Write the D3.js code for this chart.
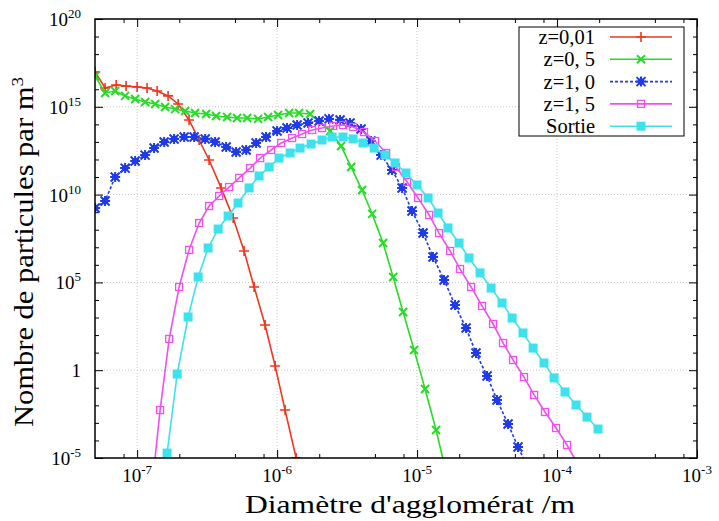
<!DOCTYPE html>
<html>
<head>
<meta charset="utf-8">
<script src="https://cdn.jsdelivr.net/npm/d3@7"></script>
<style>
  body { margin: 0; background: #fff; }
  svg text { font-family: "Liberation Serif", "Times New Roman", serif; fill: #000; }
</style>
</head>
<body>
<script>
// values, stored as log10 (diameter in m, number per m3)
var seriesNames = ["z=0,01", "z=0, 5", "z=1, 0", "z=1, 5", "Sortie"];

var z001LogD = [-7.300,-7.229,-7.150,-7.079,-7.000,-6.929,-6.857,-6.779,-6.707,-6.629,-6.557,-6.486,-6.400,-6.314,-6.236,-6.164,-6.086,-6.014,-5.943,-5.864];
var z001LogN = [16.98,16.07,16.24,16.18,16.13,16.07,15.90,15.62,15.16,14.25,13.11,11.97,10.38,8.67,6.79,4.74,2.57,0.24,-2.27,-5.00];

var z05LogD = [-7.300,-7.229,-7.157,-7.086,-7.014,-6.943,-6.871,-6.800,-6.729,-6.657,-6.586,-6.507,-6.436,-6.357,-6.286,-6.214,-6.136,-6.064,-5.993,-5.914,-5.843,-5.764,
               -5.621,-5.543,-5.471,-5.393,-5.321,-5.243,-5.171,-5.100,-5.021,-4.943,-4.864,-4.793];
var z05LogN = [16.75,15.79,15.90,15.62,15.44,15.27,15.16,14.99,14.87,14.76,14.65,14.59,14.48,14.42,14.36,14.36,14.31,14.42,14.53,14.65,14.65,14.59,
               13.62,12.77,11.57,10.26,8.90,7.24,5.31,3.31,1.15,-1.07,-3.41,-5.80];

var z10LogD = [-7.300,-7.229,-7.157,-7.086,-7.014,-6.943,-6.879,-6.807,-6.736,-6.664,-6.593,-6.514,-6.443,-6.364,-6.293,-6.221,-6.150,-6.079,-6.000,-5.929,-5.857,-5.779,
               -5.700,-5.629,-5.550,-5.479,-5.400,-5.329,-5.257,-5.179,-5.107,-5.036,-4.957,-4.886,-4.807,-4.729,-4.650,-4.579,-4.500,-4.429,-4.350,-4.279,-4.200];
var z10LogN = [9.24,9.64,11.00,11.51,11.91,12.25,12.65,13.00,13.17,13.28,13.28,13.17,13.00,12.71,12.43,12.54,12.94,13.28,13.62,13.79,13.96,14.08,
               14.19,14.31,14.25,14.08,13.74,13.05,12.25,11.40,10.38,9.07,7.81,6.45,5.14,3.71,2.40,0.98,-0.33,-1.70,-3.06,-4.37,-5.68];

var z15LogD = [-6.907,-6.836,-6.771,-6.700,-6.629,-6.557,-6.486,-6.414,-6.343,-6.271,-6.193,-6.121,-6.043,-5.971,-5.893,-5.821,-5.750,-5.679,-5.600,-5.529,-5.457,
               -5.379,-5.300,-5.221,-5.150,-5.071,-4.993,-4.914,-4.843,-4.764,-4.693,-4.614,-4.536,-4.457,-4.386,-4.314,-4.236,-4.164,-4.086,-4.007,-3.929,-3.857];
var z15LogN = [-7.68,-2.27,1.78,4.74,6.85,8.38,9.35,9.92,10.43,10.95,11.51,12.08,12.54,12.94,13.22,13.45,13.68,13.79,13.91,13.96,13.85,
               13.56,13.05,12.37,11.57,10.72,9.81,8.84,7.81,6.79,5.76,4.74,3.66,2.63,1.55,0.58,-0.39,-1.41,-2.38,-3.29,-4.26,-5.28];

var sortieLogD = [-6.850,-6.786,-6.714,-6.636,-6.564,-6.493,-6.421,-6.350,-6.279,-6.200,-6.129,-6.057,-5.986,-5.907,-5.836,-5.757,-5.679,-5.607,-5.529,-5.457,-5.386,
                  -5.307,-5.229,-5.157,-5.079,-5.000,-4.921,-4.850,-4.779,-4.700,-4.629,-4.550,-4.471,-4.393,-4.321,-4.243,-4.171,-4.093,-4.021,-3.943,-3.864,-3.786,-3.707];
var sortieLogN = [-11.38,-4.72,-0.22,3.03,5.31,6.96,8.04,8.78,9.52,10.38,11.06,11.57,12.08,12.37,12.65,12.88,13.11,13.28,13.28,13.17,12.94,
                  12.65,12.25,11.80,11.23,10.55,9.81,8.95,8.10,7.24,6.39,5.54,4.68,3.83,2.97,2.12,1.26,0.41,-0.44,-1.24,-1.98,-2.67,-3.35];

var xTickExp = [-7, -6, -5, -4, -3];
var yTickExp = [-5, 0, 5, 10, 15, 20];

var colors = ["#f0361c", "#26dc26", "#1f3be8", "#f24ef2", "#3ee2ec"];
var markers = ["plus", "cross", "star", "box", "fbox"];

var W = 719, H = 521;
var pLeft = 95, pRight = 697, pTop = 19, pBottom = 458;

var svg = d3.select("body").append("svg").attr("width", W).attr("height", H);

var x = d3.scaleLog().domain([5e-8, 1e-3]).range([pLeft, pRight]);
var y = d3.scaleLog().domain([1e-5, 1e20]).range([pBottom, pTop]);

svg.append("clipPath").attr("id", "plot")
  .append("rect").attr("x", pLeft).attr("y", pTop).attr("width", pRight - pLeft).attr("height", pBottom - pTop);

// grid
var grid = svg.append("g").attr("stroke", "#c8c8c8").attr("stroke-width", 1).attr("stroke-dasharray", "1,2");
xTickExp.slice(0, 4).forEach(function(e) {
  grid.append("line").attr("x1", x(Math.pow(10, e))).attr("x2", x(Math.pow(10, e))).attr("y1", pTop).attr("y2", pBottom);
});
yTickExp.slice(1, 5).forEach(function(e) {
  grid.append("line").attr("y1", y(Math.pow(10, e))).attr("y2", y(Math.pow(10, e))).attr("x1", pLeft).attr("x2", pRight);
});

// ticks
var xMajor = xTickExp.map(function(e) { return Math.pow(10, e); });
var xMinor = [];
[-8, -7, -6, -5, -4].forEach(function(e) {
  [2, 5, 8].forEach(function(m) {
    var v = m * Math.pow(10, e);
    if (v > 5e-8 && v < 1e-3) xMinor.push(v);
  });
});
var yMajor = yTickExp.map(function(e) { return Math.pow(10, e); });
var yMinor = d3.range(-5, 21).filter(function(e) { return e % 5 !== 0; }).map(function(e) { return Math.pow(10, e); });

function addAxis(axis, tr) {
  var g = svg.append("g").attr("transform", tr).call(axis);
  g.select(".domain").remove();
  g.selectAll(".tick line").attr("stroke", "#000").attr("stroke-width", 1);
  g.selectAll(".tick text").remove();
}
addAxis(d3.axisBottom(x).tickValues(xMajor).tickSize(-8), "translate(0," + pBottom + ")");
addAxis(d3.axisBottom(x).tickValues(xMinor).tickSize(-4), "translate(0," + pBottom + ")");
addAxis(d3.axisTop(x).tickValues(xMajor).tickSize(-8), "translate(0," + pTop + ")");
addAxis(d3.axisTop(x).tickValues(xMinor).tickSize(-4), "translate(0," + pTop + ")");
addAxis(d3.axisLeft(y).tickValues(yMajor).tickSize(-8), "translate(" + pLeft + ",0)");
addAxis(d3.axisLeft(y).tickValues(yMinor).tickSize(-4), "translate(" + pLeft + ",0)");
addAxis(d3.axisRight(y).tickValues(yMajor).tickSize(-8), "translate(" + pRight + ",0)");
addAxis(d3.axisRight(y).tickValues(yMinor).tickSize(-4), "translate(" + pRight + ",0)");

function powLabel(t, e) {
  if (e === 0) { t.text("1"); return; }
  t.append("tspan").text("10");
  t.append("tspan").attr("dy", -8).attr("font-size", 13).text(String(e));
}

xTickExp.forEach(function(e) {
  var t = svg.append("text").attr("x", x(Math.pow(10, e))).attr("y", 482)
    .attr("text-anchor", "middle").attr("font-size", 19);
  powLabel(t, e);
});
yTickExp.forEach(function(e) {
  var t = svg.append("text").attr("x", 81).attr("y", y(Math.pow(10, e)) + 7)
    .attr("text-anchor", "end").attr("font-size", 19);
  powLabel(t, e);
});

// series
var series = [
  { d: z001LogD, n: z001LogN },
  { d: z05LogD, n: z05LogN },
  { d: z10LogD, n: z10LogN },
  { d: z15LogD, n: z15LogN },
  { d: sortieLogD, n: sortieLogN }
].map(function(s, i) {
  return {
    name: seriesNames[i], color: colors[i], marker: markers[i],
    pts: s.d.map(function(v, k) { return [Math.pow(10, v), Math.pow(10, s.n[k])]; })
  };
});

function drawMarker(g, type, color, cx, cy) {
  var m = g.append("g").attr("transform", "translate(" + cx + "," + cy + ")");
  if (type === "plus") {
    m.append("path").attr("d", "M-5,0H5M0,-5V5").attr("stroke", color).attr("stroke-width", 1.6).attr("fill", "none");
  } else if (type === "cross") {
    m.append("path").attr("d", "M-4,-4L4,4M-4,4L4,-4").attr("stroke", color).attr("stroke-width", 2).attr("fill", "none");
  } else if (type === "star") {
    m.append("rect").attr("x", -3).attr("y", -3).attr("width", 6).attr("height", 6).attr("fill", color);
    m.append("path").attr("d", "M-4.5,-4.5L4.5,4.5M-4.5,4.5L4.5,-4.5M-5,0H5M0,-5V5").attr("stroke", color).attr("stroke-width", 2).attr("fill", "none");
  } else if (type === "box") {
    m.append("rect").attr("x", -3.5).attr("y", -3.5).attr("width", 7).attr("height", 7)
      .attr("stroke", color).attr("stroke-width", 1.3).attr("fill", "none");
  } else {
    m.append("rect").attr("x", -4.5).attr("y", -4.5).attr("width", 9).attr("height", 9).attr("fill", color);
  }
}

var line = d3.line().x(function(p) { return x(p[0]); }).y(function(p) { return y(p[1]); });
var plot = svg.append("g").attr("clip-path", "url(#plot)");

series.forEach(function(s) {
  plot.append("path").datum(s.pts).attr("d", line)
    .attr("fill", "none").attr("stroke", s.color).attr("stroke-width", 1.6)
    .attr("stroke-dasharray", s.marker === "star" ? "3,2" : null);
  var mg = plot.append("g");
  s.pts.forEach(function(p) { drawMarker(mg, s.marker, s.color, x(p[0]), y(p[1])); });
});

// frame
svg.append("rect").attr("x", pLeft).attr("y", pTop).attr("width", pRight - pLeft).attr("height", pBottom - pTop)
  .attr("fill", "none").attr("stroke", "#000").attr("stroke-width", 1.5);

// legend
var lg = svg.append("g");
lg.append("rect").attr("x", 519).attr("y", 27).attr("width", 165).attr("height", 109)
  .attr("fill", "#fff").attr("stroke", "#000").attr("stroke-width", 1);
series.forEach(function(s, i) {
  var cy = 37 + i * 22.3;
  lg.append("text").attr("x", 595).attr("y", cy + 7).attr("text-anchor", "end").attr("font-size", 20.5).text(s.name);
  lg.append("line").attr("x1", 610).attr("x2", 672).attr("y1", cy).attr("y2", cy)
    .attr("stroke", s.color).attr("stroke-width", 1.6)
    .attr("stroke-dasharray", s.marker === "star" ? "3,2" : null);
  drawMarker(lg, s.marker, s.color, 641, cy);
});

// axis titles
svg.append("text").attr("x", 410).attr("y", 513).attr("text-anchor", "middle")
  .attr("font-size", 26).attr("textLength", 330).attr("lengthAdjust", "spacingAndGlyphs")
  .text("Diamètre d'agglomérat /m");

var yt = svg.append("text").attr("transform", "translate(33,252) rotate(-90)")
  .attr("text-anchor", "middle").attr("font-size", 27)
  .attr("textLength", 350).attr("lengthAdjust", "spacingAndGlyphs");
yt.append("tspan").text("Nombre de particules par m");
yt.append("tspan").attr("dy", -10).attr("font-size", 17).text("3");
</script>
</body>
</html>
